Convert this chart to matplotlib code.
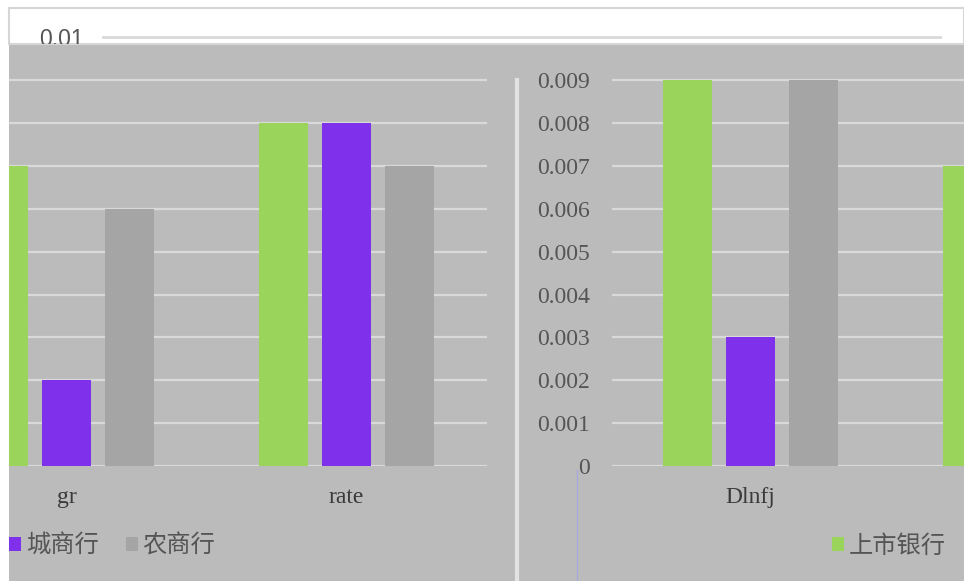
import numpy as np
import matplotlib
matplotlib.use("Agg")
import matplotlib.pyplot as plt
from matplotlib.patches import Rectangle
from matplotlib.lines import Line2D

# =========================================================
# DADOS
# =========================================================
cat_esq = ["gr", "rate"]
verde_esq = [0.007, 0.008]
roxo_esq = [0.002, 0.008]
cinza_esq = [0.006, 0.007]

cat_dir = ["Dlnfj", ""]
verde_dir = [0.009, 0.007]
roxo_dir = [0.003]
cinza_dir = [0.009]

ticks_y = [0, 0.001, 0.002, 0.003, 0.004, 0.005, 0.006, 0.007, 0.008, 0.009]
labels_y = ["0", "0.001", "0.002", "0.003", "0.004", "0.005", "0.006",
            "0.007", "0.008", "0.009"]

nomes = ["上市银行", "城商行", "农商行"]

# =========================================================
# ESTILO
# =========================================================
W, H = 964, 581
FUNDO = "#BBBBBB"
GRADE = "#D9D9D9"
VERDE = "#9BD45A"
ROXO = "#7F30EA"
CINZA = "#A5A5A5"
TEXTO = "#555555"
CJK = ["Noto Sans CJK SC", "DejaVu Sans"]
SERIF = "Liberation Serif"

largura = 49 / 280
desloc = 63 / 280
PX_POR_UNID = 42900  # pixels por unidade do eixo y


def px(x0, y0, x1, y1):
    return [x0 / W, 1 - y1 / H, (x1 - x0) / W, (y1 - y0) / H]


fig = plt.figure(figsize=(W / 100, H / 100), dpi=100, facecolor="white")

# fundo cinza
fig.patches.append(Rectangle((9 / W, 0), 1 - 9 / W, 1 - 45 / H,
                             transform=fig.transFigure, facecolor=FUNDO,
                             edgecolor="none", zorder=-3))


def painel(rect, cats, verde, roxo, cinza, xlim):
    ax = fig.add_axes(rect)
    ax.set_facecolor("none")
    x = np.arange(len(cats))
    b_v = ax.bar(x[:len(verde)] - desloc, verde, largura, color=VERDE, zorder=3)
    b_r = ax.bar(x[:len(roxo)], roxo, largura, color=ROXO, zorder=3)
    b_c = ax.bar(x[:len(cinza)] + desloc, cinza, largura, color=CINZA, zorder=3)
    ax.set_xticks(x)
    ax.set_xticklabels(cats, family=SERIF, fontsize=17, color="#3A3A3A")
    ax.set_xlim(*xlim)
    ax.set_ylim(0, 0.0098)
    ax.set_yticks(ticks_y)
    ax.yaxis.grid(True, color=GRADE, linewidth=1.6)
    ax.set_axisbelow(True)
    ax.tick_params(length=0, pad=15)
    for s in ax.spines.values():
        s.set_visible(False)
    return ax, b_v, b_r, b_c


# painel esquerdo
ax1, v1, r1, c1 = painel(px(9, 46, 487, 466), cat_esq, verde_esq, roxo_esq,
                         cinza_esq, (-(66.5 - 9) / 280, (487 - 66.5) / 280))
ax1.set_yticklabels([])

# painel direito
ax2, v2, r2, c2 = painel(px(612, 46, 964, 466), cat_dir, verde_dir, roxo_dir,
                         cinza_dir, (-(750 - 612) / 280, (964 - 750) / 280))
ax2.set_yticklabels(labels_y, family=SERIF, fontsize=17, color=TEXTO)
ax2.tick_params(axis="y", pad=16)

# faixa branca no topo
fig.patches.append(Rectangle((9 / W, 1 - 44 / H), 1 - 9 / W, 36 / H,
                             transform=fig.transFigure, facecolor="white",
                             edgecolor="#D6D6D6", linewidth=1.5, zorder=-2))
ax_t = fig.add_axes(px(9, 8, 964, 44))
ax_t.set_facecolor("none")
ax_t.set_xlim(9, 964)
ax_t.set_ylim(0.01 - 7 / PX_POR_UNID, 0.01 + 29 / PX_POR_UNID)
ax_t.axhline(0.01, xmin=(103 - 9) / 955, xmax=(940 - 9) / 955,
             color=GRADE, linewidth=2)
ax_t.text(39, 0.01 - 2 / PX_POR_UNID, "0.01", family="Liberation Sans",
          fontsize=16.5, color=TEXTO, ha="left", va="center", clip_on=True)
ax_t.set_xticks([])
ax_t.set_yticks([])
for s in ax_t.spines.values():
    s.set_visible(False)

# linhas verticais
fig.add_artist(Line2D([517 / W, 517 / W], [0, 1 - 80 / H], color="#E2E2E2",
                      linewidth=3))
fig.add_artist(Line2D([577 / W, 577 / W], [0, 1 - 470 / H], color="#A8A8E0",
                      linewidth=1))

# legendas
fig.legend([r1, c1], nomes[1:], loc="center left",
           bbox_to_anchor=(9 / W, 1 - 546 / H), frameon=False, ncol=2,
           prop={"family": CJK, "size": 17.5}, labelcolor=TEXTO,
           handlelength=0.5, handleheight=0.5, handletextpad=0.2,
           columnspacing=1.1, borderpad=0, borderaxespad=0)
fig.legend([v2], nomes[:1], loc="center left",
           bbox_to_anchor=(832 / W, 1 - 546 / H), frameon=False,
           prop={"family": CJK, "size": 17.5}, labelcolor=TEXTO,
           handlelength=0.5, handleheight=0.5, handletextpad=0.2,
           borderpad=0, borderaxespad=0)

fig.savefig("out.png", dpi=100, facecolor="white")
plt.close(fig)
